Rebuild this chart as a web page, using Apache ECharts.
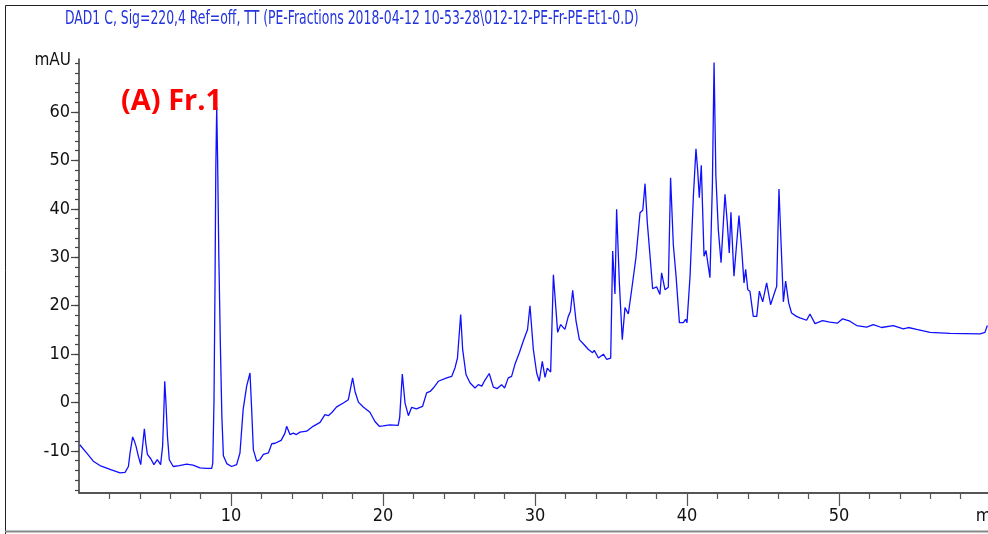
<!DOCTYPE html>
<html>
<head>
<meta charset="utf-8">
<script src="https://cdn.jsdelivr.net/npm/echarts@6/dist/echarts.min.js"></script>
<style>html,body{margin:0;padding:0;background:#fff;}#c{width:988px;height:534px;}</style>
</head>
<body>
<div id="c"></div>
<script>
// Retention time (min)
const retentionTimes = [
0.05,0.5,0.94,1.38,2.04,2.7,3.03,3.25,3.36,3.53,3.65,3.75,3.9,4.06,4.15,4.3,4.4,4.5,4.72,4.93,
5.15,5.37,5.5,5.58,5.64,5.72,5.82,5.94,6.2,6.6,7.08,7.5,7.96,8.4,8.73,8.8,8.88,8.95,9.0,9.06,
9.12,9.2,9.3,9.4,9.5,9.72,10.04,10.37,10.59,10.8,11.03,11.25,11.36,11.47,11.69,11.9,12.13,12.46,12.68,12.9,
13.3,13.55,13.66,13.88,14.1,14.3,14.54,14.98,15.4,15.86,16.18,16.4,16.62,16.95,17.39,17.72,17.85,18.0,18.16,18.38,
18.7,19.14,19.47,19.76,20.0,20.46,21.0,21.1,21.27,21.45,21.67,21.88,22.2,22.6,22.87,23.1,23.31,23.64,24.19,24.52,
24.74,24.9,25.11,25.24,25.46,25.72,26.05,26.27,26.5,26.7,26.99,27.26,27.52,27.8,28.0,28.24,28.46,28.68,28.97,29.23,
29.51,29.67,29.89,30.11,30.28,30.48,30.66,30.81,31.03,31.21,31.49,31.69,31.97,32.19,32.33,32.48,32.7,32.92,33.22,33.5,
33.79,33.9,34.17,34.5,34.72,34.98,35.11,35.26,35.37,35.55,35.74,35.92,36.14,36.36,36.64,36.91,37.09,37.24,37.39,37.57,
37.74,38.0,38.22,38.33,38.55,38.77,38.92,39.1,39.28,39.5,39.76,39.91,40.0,40.2,40.42,40.59,40.7,40.81,40.94,41.12,
41.25,41.51,41.67,41.78,41.9,42.06,42.24,42.5,42.65,42.78,42.89,43.09,43.27,43.42,43.6,43.75,43.86,44.0,44.14,44.36,
44.59,44.76,44.98,45.24,45.5,45.79,45.9,46.05,46.2,46.34,46.49,46.69,46.88,47.2,47.43,47.87,48.09,48.42,48.92,49.4,
49.89,50.24,50.72,51.16,51.82,52.26,52.8,53.57,54.23,54.56,55.11,55.99,57.3,59.28,59.6,59.76
];
// Absorbance (mAU)
const absorbance = [
-8.7,-10.4,-12.1,-13.0,-13.8,-14.5,-14.4,-13.2,-10.4,-7.1,-8.0,-9.0,-11.0,-12.8,-10.0,-5.4,-8.5,-10.7,-11.6,-12.8,
-11.8,-12.8,-9.0,-2.0,4.4,0.0,-7.0,-11.8,-13.2,-13.0,-12.7,-12.9,-13.5,-13.6,-13.6,-12.5,0,25,48,61,
50,30,12,-3,-11,-12.6,-13.2,-12.8,-10.4,-1.4,3.4,6.1,-1.5,-9.7,-12.1,-11.8,-10.7,-10.4,-8.5,-8.4,
-7.8,-6.3,-4.9,-6.6,-6.3,-6.6,-6.1,-5.9,-4.9,-4.1,-2.5,-2.7,-2.1,-0.9,-0.1,0.6,0.7,5.1,2.3,0.1,
-0.9,-2.0,-3.9,-4.9,-4.8,-4.6,-4.7,-3.0,5.9,-0.1,-2.7,-1.0,-1.3,-0.8,2.0,2.3,3.0,4.4,5.1,5.4,
7.2,9.2,18.2,11.0,5.8,4.1,3.0,3.7,3.4,4.6,6.0,3.2,2.9,3.7,3.0,5.1,5.4,7.9,10.3,12.7,
15.1,20.0,11.0,6.1,4.4,8.5,5.2,7.1,6.3,26.4,14.5,16.1,15.1,17.8,18.8,23.2,16.8,13.0,12.0,11.0,
10.3,10.8,9.2,10.0,8.9,9.2,31.3,22.4,39.9,24.7,13.0,19.6,18.3,23.3,29.9,39.2,39.7,45.2,37.1,30.2,
23.5,23.9,22.3,26.8,23.3,23.8,46.4,32.6,26.1,16.5,16.5,17.2,16.5,26.1,42.6,52.4,48,42.3,49.0,30.2,
31.4,25.8,45,70.2,46.8,35.7,28.9,43.0,37.1,30.9,39.3,26.1,33.0,38.6,31.6,24.7,27.5,23.3,23.0,17.8,
17.8,23.0,20.8,24.7,20.2,23.0,24,44.1,32,20.8,25.1,20.6,18.5,17.8,17.5,17.0,18.3,16.3,16.9,16.6,
16.4,17.3,16.8,15.9,15.6,16.1,15.5,15.9,15.2,15.5,15.1,14.5,14.3,14.2,14.5,15.9
];
// Axis ticks and labels
const xLabelValues = [10, 20, 30, 40, 50, 60];
const xMajorTicks = [10, 20, 30, 40, 50];
const xUnitLabel = 'min';
const yMajorTicks = [-10, 0, 10, 20, 30, 40, 50, 60];
const yMinorTicks = [-18,-16,-14,-12,-10,-8,-6,-4,-2,0,2,4,6,8,10,12,14,16,18,20,22,24,26,28,30,32,34,36,38,40,42,44,46,48,50,52,54,56,58,60,62,64,66,68,70];
const yUnitLabel = 'mAU';
const headerText = 'DAD1 C, Sig=220,4 Ref=off, TT (PE-Fractions 2018-04-12 10-53-28\\012-12-PE-Fr-PE-Et1-0.D)';
const panelLabel = '(A) Fr.1';

const Y_MIN = -18.67, Y_MAX = 70.94;
const narrow = '"Liberation Sans Narrow", "DejaVu Sans Condensed", "Liberation Sans", sans-serif';

const chart = echarts.init(document.getElementById('c'), null, {renderer: 'canvas'});
chart.setOption({
  animation: false,
  backgroundColor: '#ffffff',
  title: {
    text: panelLabel, left: 116, top: 82,
    textStyle: {color: '#ff0000', fontSize: 29, fontWeight: 'bold', fontFamily: '"Open Sans", "Noto Sans", sans-serif'}
  },
  grid: {left: 79, top: 59, bottom: 41, right: -3, containLabel: false, outerBoundsMode: 'none'},
  xAxis: {
    type: 'value', min: 0, max: 60, interval: 10,
    axisLine: {onZero: false, lineStyle: {color: '#555', width: 2}},
    axisTick: {customValues: xMajorTicks, length: 13, lineStyle: {color: '#555', width: 1.2}},
    minorTick: {show: true, splitNumber: 5, length: 6, lineStyle: {color: '#555', width: 1.2}},
    axisLabel: {customValues: xLabelValues, margin: 14, color: '#111', fontSize: 18, fontFamily: narrow,
      formatter: v => v === 60 ? xUnitLabel : String(v)},
    splitLine: {show: false}
  },
  yAxis: [{
    type: 'value', min: Y_MIN, max: Y_MAX, position: 'left',
    name: yUnitLabel, nameLocation: 'end', nameGap: -2,
    nameTextStyle: {color: '#111', fontSize: 17, fontFamily: narrow, align: 'right', verticalAlign: 'middle', padding: [0, 8, 0, 0]},
    axisLine: {onZero: false, lineStyle: {color: '#333', width: 1.5}},
    axisTick: {customValues: yMajorTicks, length: 8, lineStyle: {color: '#444', width: 1.2}},
    axisLabel: {customValues: yMajorTicks, margin: 9, color: '#111', fontSize: 18, fontFamily: narrow},
    splitLine: {show: false}
  }, {
    type: 'value', min: Y_MIN, max: Y_MAX, position: 'left', offset: 0,
    axisLine: {show: false},
    axisTick: {customValues: yMinorTicks, length: 4, lineStyle: {color: '#444', width: 1.2}},
    axisLabel: {show: false},
    splitLine: {show: false}
  }],
  series: [{
    type: 'line',
    data: retentionTimes.map((t, i) => [t, absorbance[i]]),
    showSymbol: false, symbol: 'none', smooth: false,
    lineStyle: {color: '#1010ff', width: 1.3}
  }],
  graphic: [
    {type: 'text', x: 65, y: 19, z: 10, scaleX: 0.69,
      style: {text: headerText, x: 0, y: 0, fill: '#2233dd', font: '20px ' + narrow, verticalAlign: 'middle', align: 'left'}},
    {type: 'polyline', z: 10, shape: {points: [[5.5, 540], [5.5, 5.5], [995, 5.5]]}, style: {stroke: '#222', lineWidth: 1, fill: null}},
    {type: 'line', z: 10, shape: {x1: 5, y1: 531.5, x2: 995, y2: 531.5}, style: {stroke: '#888', lineWidth: 2}}
  ]
});
</script>
</body>
</html>
